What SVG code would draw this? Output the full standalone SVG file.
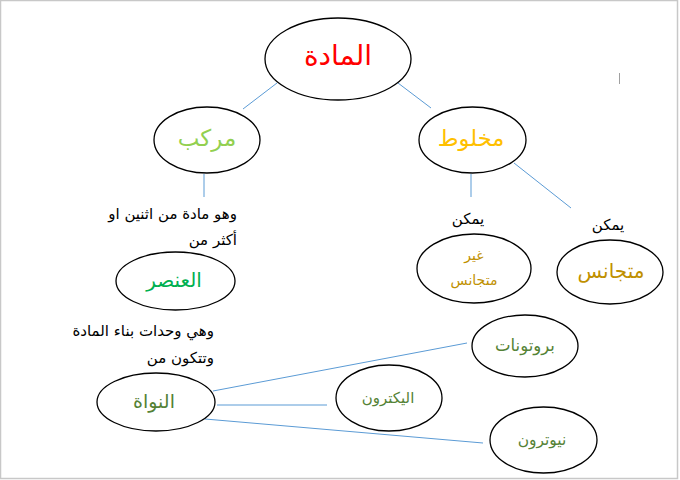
<svg xmlns="http://www.w3.org/2000/svg" width="680" height="480" viewBox="0 0 680 480">
<style>
.n{fill:#fff;stroke:#000;stroke-width:1.3}
.c line{stroke:#5b9bd5;stroke-width:1}
text{font-family:"DejaVu Sans","Liberation Sans",sans-serif;text-anchor:middle}
.lbl{font-size:15px;fill:#000;text-anchor:end}
</style>
<rect x="0.5" y="0.5" width="677" height="478" fill="#fff" stroke="#c8c8c8" stroke-width="1.5"/>
<line x1="619.5" y1="73" x2="619.5" y2="84" stroke="#a0a0a0" stroke-width="1"/>
<g class="c" id="connectors">
<line x1="277" y1="83" x2="243" y2="109"/>
<line x1="398" y1="83" x2="431" y2="108"/>
<line x1="204" y1="174" x2="204" y2="197"/>
<line x1="471" y1="174" x2="471" y2="197"/>
<line x1="514" y1="163" x2="571" y2="208"/>
<line x1="213" y1="391" x2="467" y2="343"/>
<line x1="217" y1="405" x2="327" y2="405"/>
<line x1="205" y1="419" x2="483" y2="443"/>
</g>
<g id="matter"><ellipse class="n" cx="338" cy="59" rx="73" ry="41"/><text x="338" y="65" font-size="28" fill="#ff0000">المادة</text></g>
<g id="compound"><ellipse class="n" cx="207" cy="140" rx="53" ry="33"/><text x="207" y="146" font-size="23" fill="#92d050">مركب</text></g>
<g id="mixture"><ellipse class="n" cx="472.5" cy="140" rx="53.5" ry="33"/><text x="471" y="146" font-size="22.5" fill="#ffc000">مخلوط</text></g>
<g id="compound-desc"><text class="lbl" x="237" y="219">وهو مادة من اثنين او</text><text class="lbl" x="237" y="245">أكثر من</text></g>
<g id="element"><ellipse class="n" cx="175.5" cy="281" rx="59.5" ry="29"/><text x="174" y="287" font-size="20" fill="#00b050">العنصر</text></g>
<g id="element-desc"><text class="lbl" x="214" y="336">وهي وحدات بناء المادة</text><text class="lbl" x="214" y="363">وتتكون من</text></g>
<g id="nucleus"><ellipse class="n" cx="156" cy="402" rx="59" ry="29"/><text x="154" y="408" font-size="19" fill="#548235">النواة</text></g>
<g id="protons"><ellipse class="n" cx="525" cy="346" rx="53" ry="31"/><text x="525" y="351" font-size="16.5" fill="#548235">بروتونات</text></g>
<g id="electron"><ellipse class="n" cx="389" cy="398" rx="53" ry="33"/><text x="388" y="403" font-size="15" fill="#548235">اليكترون</text></g>
<g id="neutron"><ellipse class="n" cx="543.5" cy="440" rx="53.5" ry="33"/><text x="542" y="445" font-size="15.5" fill="#548235">نيوترون</text></g>
<g id="may1"><text x="468" y="224" font-size="15" fill="#000">يمكن</text></g>
<g id="may2"><text x="608" y="230" font-size="15" fill="#000">يمكن</text></g>
<g id="heterogeneous"><ellipse class="n" cx="474" cy="268.5" rx="57" ry="34.5"/><text x="474" y="260" font-size="14" fill="#bf9000">غير</text><text x="474" y="285" font-size="14" fill="#bf9000">متجانس</text></g>
<g id="homogeneous"><ellipse class="n" cx="610" cy="272" rx="53" ry="32"/><text x="611" y="278" font-size="20" fill="#bf9000">متجانس</text></g>
</svg>
